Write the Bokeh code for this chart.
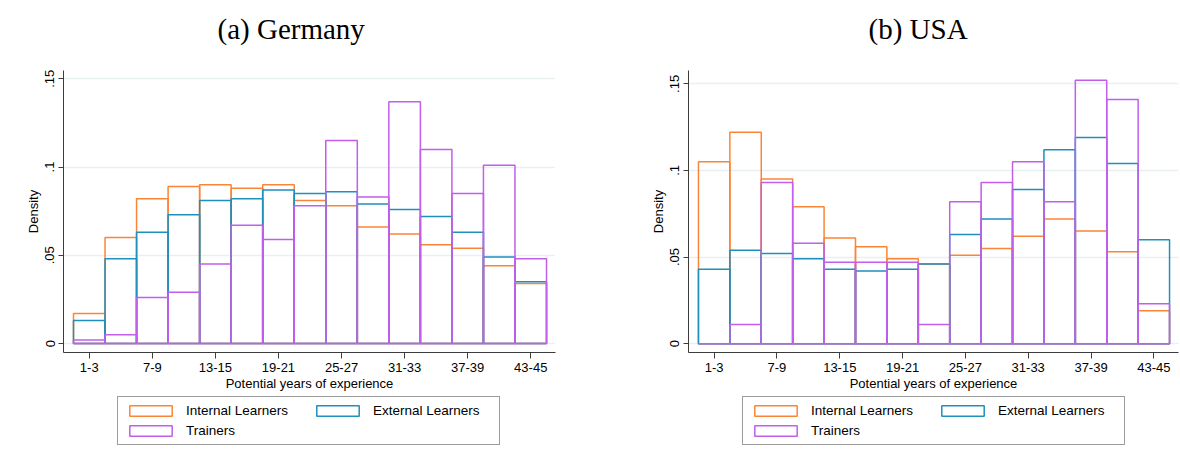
from bokeh.plotting import figure
from bokeh.layouts import row, column
from bokeh.models import Range1d, FixedTicker, Legend, ColumnDataSource, Label
from bokeh.embed import file_html
from bokeh.resources import INLINE

# ---------------- data ----------------
bins = ["1-3", "4-6", "7-9", "10-12", "13-15", "16-18", "19-21", "22-24",
        "25-27", "28-30", "31-33", "34-36", "37-39", "40-42", "43-45"]

de_internal = [0.017, 0.060, 0.082, 0.089, 0.090, 0.088, 0.090, 0.081,
               0.078, 0.066, 0.062, 0.056, 0.054, 0.044, 0.034]
de_external = [0.013, 0.048, 0.063, 0.073, 0.081, 0.082, 0.087, 0.085,
               0.086, 0.079, 0.076, 0.072, 0.063, 0.049, 0.035]
de_trainers = [0.002, 0.005, 0.026, 0.029, 0.045, 0.067, 0.059, 0.078,
               0.115, 0.083, 0.137, 0.110, 0.085, 0.101, 0.048]

us_internal = [0.105, 0.122, 0.095, 0.079, 0.061, 0.056, 0.049, 0.046,
               0.051, 0.055, 0.062, 0.072, 0.065, 0.053, 0.019]
us_external = [0.043, 0.054, 0.052, 0.049, 0.043, 0.042, 0.043, 0.046,
               0.063, 0.072, 0.089, 0.112, 0.119, 0.104, 0.060]
us_trainers = [0.000, 0.011, 0.093, 0.058, 0.047, 0.047, 0.047, 0.011,
               0.082, 0.093, 0.105, 0.082, 0.152, 0.141, 0.023]

series_names = ["Internal Learners", "External Learners", "Trainers"]
panel_titles = ["(a) Germany", "(b) USA"]
y_ticks = [0, 0.05, 0.1, 0.15]
y_tick_labels = ["0", ".05", ".1", ".15"]

COLORS = ["#fb8536", "#1f8fbe", "#c25ee9"]
SANS = "Liberation Sans"
SERIF = "Liberation Serif"
AXIS_COL = "#3c3c3c"
GRID_COL = "#e8f0f2"
TITLE_H = 55
MAIN_H = 340
LEG_H = 65
FRAME_TOP = 70 - TITLE_H
FRAME_BOTTOM = 352 - TITLE_H


def style_axis(ax):
    ax.minor_tick_line_color = None
    ax.major_tick_in = 0
    ax.axis_line_color = AXIS_COL
    ax.major_tick_line_color = AXIS_COL
    ax.major_label_text_font = SANS
    ax.major_label_text_font_size = "13px"
    ax.major_label_text_color = "black"
    ax.axis_label_text_font = SANS
    ax.axis_label_text_font_size = "13px"
    ax.axis_label_text_font_style = "normal"
    ax.axis_label_text_color = "black"


def strip(width, height, y_range=(0, 1)):
    s = figure(width=width, height=height, output_backend="svg", toolbar_location=None,
               x_axis_location=None, y_axis_location=None, min_border=0,
               x_range=Range1d(0, 1), y_range=Range1d(*y_range))
    s.outline_line_color = None
    s.xgrid.grid_line_color = None
    s.ygrid.grid_line_color = None
    s.background_fill_color = "white"
    s.border_fill_color = "white"
    return s


def make_panel(title, series, ymax, width, border_left, border_right, title_x):
    # title strip (frame aligned with the plot frame below it)
    t = strip(width, TITLE_H)
    t.add_layout(Label(x=title_x, y=TITLE_H - 28, x_units="screen", y_units="screen",
                       text=title, text_font=SERIF, text_font_size="29px",
                       text_color="black", text_baseline="middle", text_align="left"))

    p = figure(width=width, height=MAIN_H, output_backend="svg", toolbar_location=None,
               x_range=Range1d(-0.817, 14.785), y_range=Range1d(-0.0051, ymax),
               min_border_left=border_left, min_border_right=border_right,
               min_border_top=FRAME_TOP, min_border_bottom=MAIN_H - FRAME_BOTTOM)
    p.outline_line_color = None
    p.background_fill_color = "white"
    p.border_fill_color = "white"

    idx = list(range(len(bins)))
    sources = []
    for vals, col in zip(series, COLORS):
        src = ColumnDataSource(dict(left=[i - 0.5 for i in idx],
                                    right=[i + 0.5 for i in idx],
                                    top=vals, bottom=[0] * len(vals)))
        sources.append(src)
        p.quad(left="left", right="right", top="top", bottom="bottom", source=src,
               fill_alpha=0, line_color=col, line_width=1.5)

    # x axis
    xa = p.xaxis[0]
    style_axis(xa)
    xa.ticker = FixedTicker(ticks=idx[::2])
    xa.major_label_overrides = {i: bins[i] for i in idx[::2]}
    xa.axis_label = "Potential years of experience"
    xa.major_tick_out = 6
    xa.major_label_standoff = 4
    xa.axis_label_standoff = 1

    # y axis
    ya = p.yaxis[0]
    style_axis(ya)
    ya.ticker = FixedTicker(ticks=y_ticks)
    ya.major_label_overrides = dict(zip(y_ticks, y_tick_labels))
    ya.major_label_orientation = "vertical"
    ya.axis_label = "Density"
    ya.major_tick_out = 5
    ya.major_label_standoff = 4
    ya.axis_label_standoff = 2

    p.xgrid.grid_line_color = None
    p.ygrid.grid_line_color = GRID_COL
    p.ygrid.grid_line_width = 1.5

    # legend strip below the plot; the series are drawn there outside the
    # visible range so that only the key shows
    lg = strip(width, LEG_H, y_range=(10, 11))
    leg_renderers = []
    for src, col in zip(sources, COLORS):
        r = lg.quad(left="left", right="right", top="top", bottom="bottom", source=src,
                    fill_alpha=0, line_color=col, line_width=1.5)
        leg_renderers.append(r)

    legend = Legend(items=[(n, [r]) for n, r in zip(series_names, leg_renderers)],
                    location=(54, 15), orientation="horizontal", ncols=2)
    legend.border_line_color = "#3c3c3c"
    legend.border_line_width = 1
    legend.background_fill_color = "white"
    legend.background_fill_alpha = 1
    legend.label_text_font = SANS
    legend.label_text_font_size = "13.5px"
    legend.label_text_color = "black"
    legend.glyph_width = 53
    legend.glyph_height = 13
    legend.label_height = 13
    legend.label_standoff = 9
    legend.label_width = 120
    legend.padding = 6
    legend.spacing = 5
    legend.margin = 0
    lg.add_layout(legend)
    return column(t, p, lg, spacing=0)


p1 = make_panel(panel_titles[0], [de_internal, de_external, de_trainers], 0.1547,
                620, 63, 65, 154)
p2 = make_panel(panel_titles[1], [us_internal, us_external, us_trainers], 0.1577,
                560, 68, 2, 180)

layout = row(p1, p2, spacing=0)
open("out.html", "w").write(file_html(layout, INLINE))
